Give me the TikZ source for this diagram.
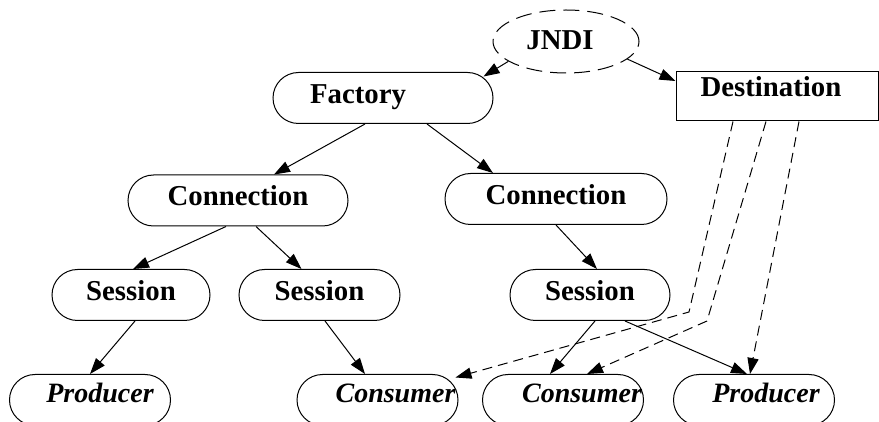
\documentclass[tikz,border=0pt]{standalone}
\usepackage{fontspec}
\setmainfont{Liberation Serif}
\usetikzlibrary{arrows.meta,shapes.geometric}

\tikzset{
  obj/.style={draw, rectangle, rounded corners=12.75pt, line width=0.5pt, inner sep=0pt,
    minimum height=25.5pt, text height=9.5pt, text depth=4pt,
    font=\fontsize{14.4}{16}\selectfont\bfseries},
  leaf/.style={obj, minimum width=80.5pt, text depth=6.5pt,
    font=\fontsize{14}{16}\selectfont\bfseries\itshape},
  naming/.style={obj, ellipse, dash pattern=on 8pt off 4pt, minimum width=73pt,
    minimum height=31.5pt, text depth=1pt},
  padl/.style={execute at begin node={\hspace*{#1}}},
  padr/.style={execute at end node={\hspace*{#1}}},
  link/.style={-{Triangle[length=8pt,width=5.6pt]}, line width=0.5pt},
  lookup/.style={link, dash pattern=on 5pt off 3pt}
}

\begin{document}
\begin{tikzpicture}[x=0.5pt,y=-0.5pt]
  \clip (0,0) rectangle (879,422);

  % Lookup
  \node[naming, padr=6pt] (jndi) at (566,41.5) {JNDI};
  \node[obj, sharp corners, minimum width=101pt, minimum height=24.5pt,
    text depth=9pt, padr=6pt] (dest) at (777,96.5) {Destination};

  % Factory and connections
  \node[obj, minimum width=110pt, padr=25pt] (fac) at (383,98) {Factory};
  \node[obj, minimum width=110pt] (conA) at (238,200.5) {Connection};
  \node[obj, minimum width=111pt] (conB) at (556,199) {Connection};

  % Sessions
  \node[obj, minimum width=79pt] (sesA) at (131,295) {Session};
  \node[obj, minimum width=80.5pt] (sesB) at (319.5,295) {Session};
  \node[obj, minimum width=80pt] (sesC) at (590,295) {Session};

  % Producers and consumers
  \node[leaf, padl=10pt] (prodA) at (90,400) {Producer};
  \node[leaf, padl=18pt] (consA) at (377.5,400) {Consumer};
  \node[leaf, padl=19pt] (consB) at (563,400) {Consumer};
  \node[leaf, padl=12pt] (prodB) at (754,400) {Producer};

  % Creation
  \draw[link] (jndi.199) -- ([xshift=-5pt,yshift=-2.25pt]fac.north east);
  \draw[link] (jndi.-16) -- ([yshift=7.75pt]dest.west);
  \draw[link] ([xshift=-9pt]fac.south) -- ([xshift=18pt]conA.north);
  \draw[link] ([xshift=22pt]fac.south) -- ([xshift=-31.5pt]conB.north);
  \draw[link] ([xshift=-6pt]conA.south) -- ([xshift=1pt]sesA.north);
  \draw[link] ([xshift=9pt]conA.south) -- ([xshift=-9pt]sesB.north);
  \draw[link] (conB.south) -- ([xshift=3.5pt]sesC.north);
  \draw[link] ([xshift=2pt]sesA.south) -- (prodA.north);
  \draw[link] ([xshift=2.75pt]sesB.south) -- ([xshift=-6.25pt]consA.north);
  \draw[link] ([xshift=2.5pt]sesC.south) -- ([xshift=-6.5pt]consB.north);
  \draw[link] ([xshift=17.5pt]sesC.south) -- ([xshift=-3.5pt]prodB.north);

  % Destination used by producers and consumers
  \coordinate (bendA) at (689,312);
  \coordinate (bendB) at (707,321);
  \draw[lookup] ([xshift=-22pt]dest.south) -- (bendA)
    -- ([xshift=-1.5pt,yshift=-1.75pt]consA.north east);
  \draw[lookup] ([xshift=-5.5pt]dest.south) -- (bendB) -- ([xshift=12pt]consB.north);
  \draw[lookup] ([xshift=11pt]dest.south) -- ([xshift=-2pt]prodB.north);
\end{tikzpicture}
\end{document}
